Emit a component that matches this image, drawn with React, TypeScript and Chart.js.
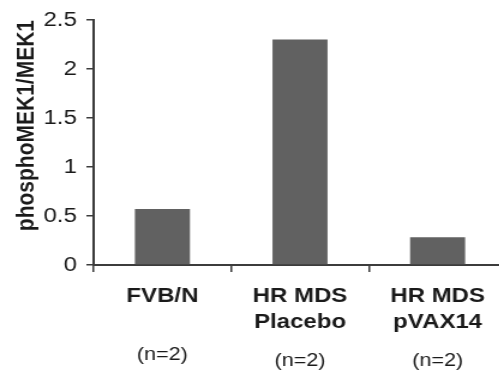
import React, { useEffect, useRef } from "react";
import { Chart, registerables } from "chart.js";

Chart.register(...registerables);

const categories: string[][] = [["FVB/N"], ["HR MDS", "Placebo"], ["HR MDS", "pVAX14"]];
const sampleSizes: string[] = ["(n=2)", "(n=2)", "(n=2)"];
const values: number[] = [0.572, 2.3, 0.283];
const yTicks = { min: 0, max: 2.5, step: 0.5 };
const yTitle = "phosphoMEK1/MEK1";

const FONT = "'Liberation Sans', Arial, sans-serif";
const AXIS = "#3c3c3c";
const TEXT = "#1a1a1a";

const nLabelsPlugin = {
  id: "nLabels",
  afterDraw(chart: any) {
    const xs = chart.scales.x;
    const ctx = chart.ctx;
    const bottom = chart.chartArea.bottom;
    ctx.save();
    ctx.font = `18px ${FONT}`;
    ctx.fillStyle = TEXT;
    ctx.textAlign = "center";
    ctx.textBaseline = "alphabetic";
    sampleSizes.forEach((s, i) => {
      const x = xs.getPixelForValue(i);
      const lines = categories[i].length;
      const y = bottom + (lines === 1 ? 95 : 101);
      ctx.fillText(s, x, y);
    });
    ctx.restore();
  },
};

export default function App() {
  const ref = useRef<HTMLCanvasElement>(null);
  useEffect(() => {
    if (!ref.current) return;
    Chart.defaults.font.family = FONT;
    const chart = new Chart(ref.current, {
      type: "bar",
      data: {
        labels: categories,
        datasets: [
          {
            data: values,
            backgroundColor: "#616161",
            borderWidth: 0,
            barPercentage: 0.4,
            categoryPercentage: 1.0,
          },
        ],
      },
      options: {
        responsive: false,
        animation: false,
        layout: { padding: { top: 19, left: 0, right: 0, bottom: 0 } },
        plugins: { legend: { display: false }, tooltip: { enabled: false } },
        scales: {
          x: {
            grid: {
              display: true,
              drawOnChartArea: false,
              drawTicks: true,
              tickLength: 7,
              color: AXIS,
              lineWidth: 1.5,
              offset: true,
            },
            border: { display: true, color: AXIS, width: 2 },
            ticks: {
              color: TEXT,
              font: { size: 20, weight: "bold", lineHeight: 1.3 },
              padding: 11,
              maxRotation: 0,
              autoSkip: false,
            },
            afterFit: (s: any) => {
              s.height = 106;
            },
          },
          y: {
            min: yTicks.min,
            max: yTicks.max,
            ticks: {
              stepSize: yTicks.step,
              color: TEXT,
              font: { size: 20 },
              padding: 8,
              callback: (v: any) => `${Number(v)}`,
            },
            grid: {
              drawOnChartArea: false,
              drawTicks: true,
              tickLength: 6,
              color: AXIS,
              lineWidth: 1.5,
            },
            border: { display: true, color: AXIS, width: 2 },
            title: {
              display: true,
              text: yTitle,
              color: TEXT,
              align: "end",
              font: { size: 21, weight: "bold" },
              padding: { top: 10, bottom: 0 },
            },
            afterFit: (s: any) => {
              s.width = 78;
            },
          },
        },
      },
      plugins: [nLabelsPlugin],
    });
    return () => chart.destroy();
  }, []);

  return (
    <div
      style={{
        position: "absolute",
        left: 0,
        top: 0,
        width: 499,
        height: 371,
        overflow: "hidden",
        background: "#fff",
      }}
    >
      <div
        style={{
          width: 422,
          height: 371,
          transform: "scaleX(1.2)",
          transformOrigin: "0 0",
        }}
      >
        <canvas ref={ref} width={422} height={371} style={{ width: 422, height: 371, display: "block" }} />
      </div>
    </div>
  );
}
